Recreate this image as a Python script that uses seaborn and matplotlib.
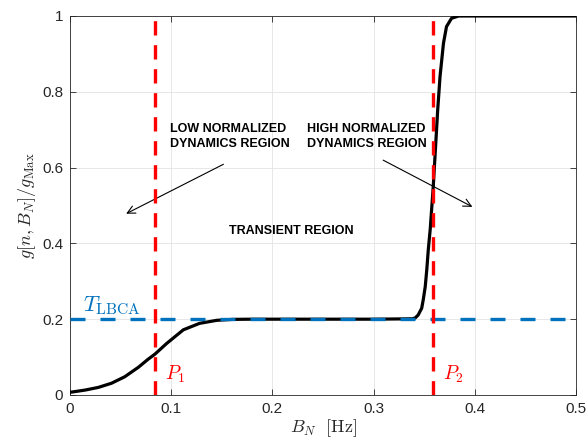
import matplotlib
matplotlib.use("Agg")
import matplotlib.pyplot as plt
import seaborn as sns
import pandas as pd

# ---- data ----
bn = [0.0, 0.015, 0.028, 0.041, 0.054, 0.0675, 0.077, 0.084, 0.0955, 0.112, 0.128,
      0.145, 0.161, 0.180, 0.250, 0.300, 0.338, 0.341, 0.344, 0.3475, 0.349, 0.351,
      0.3525, 0.354, 0.356, 0.359, 0.3633, 0.3656, 0.369, 0.372, 0.377, 0.384,
      0.400, 0.500]
g_norm = [0.007, 0.013, 0.020, 0.031, 0.048, 0.073, 0.094, 0.108, 0.136, 0.172, 0.189,
          0.197, 0.1995, 0.200, 0.200, 0.200, 0.201, 0.203, 0.211, 0.229, 0.251, 0.286,
          0.330, 0.383, 0.440, 0.554, 0.752, 0.840, 0.928, 0.972, 0.994, 1.000,
          1.000, 1.000]
threshold_x = [0.0, 0.5]
threshold_y = [0.2, 0.2]
p1_x = [0.084, 0.084]
p2_x = [0.359, 0.359]
p_y = [0.0, 1.0]
x_ticks = [0, 0.1, 0.2, 0.3, 0.4, 0.5]
x_tick_labels = ["0", "0.1", "0.2", "0.3", "0.4", "0.5"]
y_ticks = [0, 0.2, 0.4, 0.6, 0.8, 1.0]
y_tick_labels = ["0", "0.2", "0.4", "0.6", "0.8", "1"]

sns.set_theme(style="whitegrid")
plt.rcParams["font.family"] = ["Liberation Sans", "DejaVu Sans"]
plt.rcParams["mathtext.fontset"] = "cm"

fig = plt.figure(figsize=(5.86, 4.43), dpi=100)
ax = fig.add_axes([0.1195, 0.1084, 0.8635, 0.8555])

curve = pd.DataFrame({"x": bn, "y": g_norm})
sns.lineplot(data=curve, x="x", y="y", ax=ax, color="black", lw=2.3, zorder=3,
             estimator=None, sort=False)
sns.lineplot(x=threshold_x, y=threshold_y, ax=ax, color="#0072BD", lw=2.4, zorder=4,
             estimator=None, linestyle=(0, (4.5, 4.5)))
sns.lineplot(x=p1_x, y=p_y, ax=ax, color="#FF0000", lw=2.4, zorder=5,
             estimator=None, linestyle=(0, (4.3, 2.9)))
sns.lineplot(x=p2_x, y=p_y, ax=ax, color="#FF0000", lw=2.4, zorder=5,
             estimator=None, linestyle=(0, (4.3, 2.9)))

ax.set_xlim(0, 0.5)
ax.set_ylim(0, 1)
ax.set_xticks(x_ticks)
ax.set_xticklabels(x_tick_labels)
ax.set_yticks(y_ticks)
ax.set_yticklabels(y_tick_labels)
ax.tick_params(axis="both", which="both", direction="in", length=4, width=0.6,
               colors="#262626", labelsize=11, top=True, right=True,
               bottom=True, left=True, pad=5)
ax.grid(True, color="#e3e3e3", lw=0.6)
ax.set_facecolor("white")
for s in ax.spines.values():
    s.set_visible(True)
    s.set_color("#262626")
    s.set_linewidth(0.6)

ax.set_xlabel(r"$B_N\ \ [\mathrm{Hz}]$", fontsize=13, color="#262626", labelpad=1)
ax.set_ylabel(r"$g[n,B_N]/g_{\mathrm{Max}}$", fontsize=13, color="#262626", labelpad=3)

ax.text(0.0125, 0.22, r"$T_{\mathrm{LBCA}}$", color="#0072BD", fontsize=16,
        ha="left", va="baseline")
ax.text(0.094, 0.04, r"$P_1$", color="#FF0000", fontsize=14, ha="left", va="baseline")
ax.text(0.369, 0.04, r"$P_2$", color="#FF0000", fontsize=14, ha="left", va="baseline")

ax.text(0.099, 0.718, "LOW NORMALIZED\nDYNAMICS REGION", fontsize=9, fontweight="bold",
        ha="left", va="top", color="black", linespacing=1.3)
ax.text(0.234, 0.718, "HIGH NORMALIZED\nDYNAMICS REGION", fontsize=9, fontweight="bold",
        ha="left", va="top", color="black", linespacing=1.3)
ax.text(0.157, 0.433, "TRANSIENT REGION", fontsize=9, fontweight="bold",
        ha="left", va="center", color="black")

ax.annotate("", xy=(0.053, 0.475), xytext=(0.154, 0.612),
            arrowprops=dict(arrowstyle="->", color="black", lw=0.8, mutation_scale=14))
ax.annotate("", xy=(0.400, 0.493), xytext=(0.307, 0.623),
            arrowprops=dict(arrowstyle="->", color="black", lw=0.8, mutation_scale=14))

fig.savefig("out.png", dpi=100)
